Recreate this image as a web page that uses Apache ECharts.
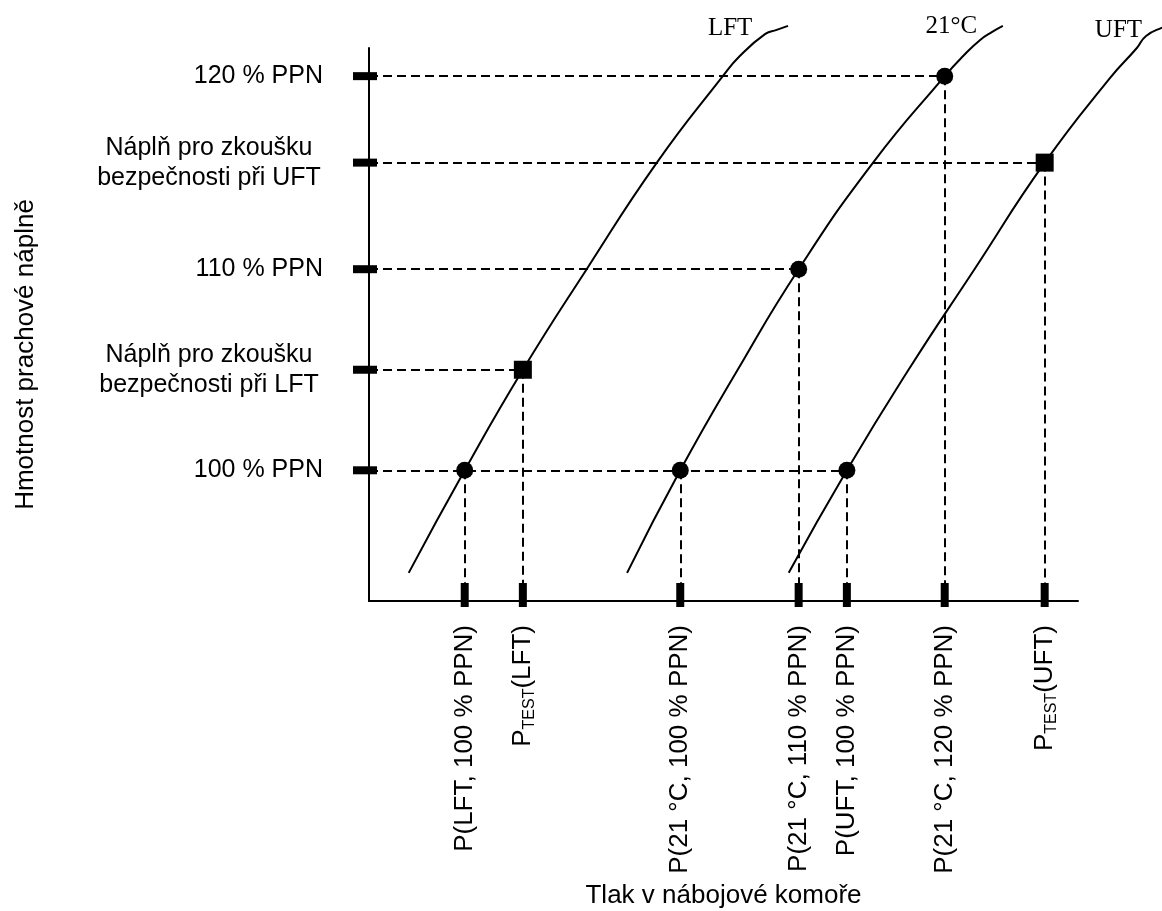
<!DOCTYPE html>
<html>
<head>
<meta charset="utf-8">
<script src="https://cdn.jsdelivr.net/npm/echarts@6/dist/echarts.min.js"></script>
<style>
  html, body { margin: 0; padding: 0; background: #fff; }
  #chart { width: 1162px; height: 911px; }
</style>
</head>
<body>
<div id="chart"></div>
<script>
// y axis: charge mass (% PPN), ticks as placed in the picture
const massLabels = ['120 % PPN', 'Náplň pro zkoušku\nbezpečnosti při UFT', '110 % PPN', 'Náplň pro zkoušku\nbezpečnosti při LFT', '100 % PPN']
const massTicks = [119.6, 115.3, 110, 105, 100]

// x axis: chamber pressure (relative units)
const pressureLabels = ['P(LFT, 100 % PPN)', 'P_TEST(LFT)', 'P(21 °C, 100 % PPN)', 'P(21 °C, 110 % PPN)', 'P(UFT, 100 % PPN)', 'P(21 °C, 120 % PPN)', 'P_TEST(UFT)']
const pressureTicks = [13.5, 21.7, 43.9, 60.6, 67.4, 81.2, 95.3]

// marked operating points
const pointP = [13.5, 21.7, 43.9, 60.6, 67.4, 81.2, 95.3]
const pointM = [100, 105, 100, 110, 100, 119.6, 115.3]
const pointMarker = ['circle', 'rect', 'circle', 'circle', 'circle', 'circle', 'rect']

// curves
const lftP = [5.6, 13.5, 21.7, 30.7, 40.6, 49.9, 52.3, 55.9, 57.5, 59.1]
const lftM = [94.9, 100, 105, 110, 115.3, 119.6, 120.6, 121.7, 121.9, 122.1]
const t21P = [36.4, 43.9, 52.0, 60.6, 71.1, 81.2, 83.8, 86.2, 87.9, 89.4]
const t21M = [94.9, 100, 105, 110, 115.3, 119.6, 120.6, 121.4, 121.8, 122.1]
const uftP = [59.2, 67.4, 76.1, 85.4, 95.3, 104.5, 108.3, 109.6, 111.8, 113.7]
const uftM = [94.9, 100, 105, 110, 115.3, 119.5, 121.0, 121.6, 122.0, 122.2]

const X_MIN = 0, X_MAX = 100, Y_MIN = 93.5, Y_MAX = 121
const GRID = { left: 369, right: 84, top: 48, bottom: 310 }
const SANS = "'Liberation Sans', Arial, sans-serif"
const SERIF = "'Liberation Serif', 'Times New Roman', serif"

const chart = echarts.init(document.getElementById('chart'))
const chartW = 1162
// the curves run past the right end of the x axis, so they sit on a hidden grid
// with the same scale that reaches the page edge
const wideMax = X_MAX * (chartW - GRID.left) / (chartW - GRID.left - GRID.right)

function nearest(arr, v) {
  let best = 0
  arr.forEach((a, i) => { if (Math.abs(a - v) < Math.abs(arr[best] - v)) best = i })
  return best
}

function curve(name, ps, ms, labelIdx, labelDist) {
  const data = ps.map((p, i) => {
    if (i !== labelIdx) return [p, ms[i]]
    return {
      value: [p, ms[i]],
      label: {
        show: true, position: 'left', distance: labelDist, offset: [0, -5],
        formatter: name, fontFamily: SERIF, fontSize: 25, color: '#000'
      }
    }
  })
  return {
    name, type: 'line', data, smooth: 0.5, clip: false,
    xAxisIndex: 1, yAxisIndex: 1,
    showSymbol: true, symbol: 'circle', symbolSize: 0, silent: true, z: 3,
    lineStyle: { color: '#000', width: 2 }
  }
}

const guides = []
pointP.forEach((p, i) => {
  guides.push({ coords: [[X_MIN, pointM[i]], [p, pointM[i]]] })
  guides.push({ coords: [[p, pointM[i]], [p, Y_MIN]] })
})

const option = {
  backgroundColor: '#fff',
  animation: false,
  grid: [
    Object.assign({ outerBoundsMode: 'none' }, GRID),
    { left: GRID.left, right: 0, top: GRID.top, bottom: GRID.bottom, outerBoundsMode: 'none' }
  ],
  xAxis: [{
    type: 'value', min: X_MIN, max: X_MAX,
    name: 'Tlak v nábojové komoře', nameLocation: 'middle', nameGap: 282,
    nameTextStyle: { fontFamily: SANS, fontSize: 26, color: '#000' },
    axisLine: { lineStyle: { color: '#000', width: 2 } },
    axisTick: { show: false },
    splitLine: { show: false },
    axisLabel: {
      customValues: pressureTicks, rotate: 90, margin: 24,
      fontFamily: SANS, fontSize: 26, color: '#000',
      formatter: v => {
        const t = pressureLabels[nearest(pressureTicks, v)]
        if (t.indexOf('P_TEST') === 0) return '{m|P}{s|TEST}{m|' + t.slice(6) + '}'
        return t
      },
      rich: {
        m: { fontFamily: SANS, fontSize: 26, color: '#000', lineHeight: 30 },
        s: { fontFamily: SANS, fontSize: 16, color: '#000', lineHeight: 30, verticalAlign: 'bottom' }
      }
    }
  }, {
    type: 'value', gridIndex: 1, min: X_MIN, max: wideMax, show: false
  }],
  yAxis: [{
    type: 'value', min: Y_MIN, max: Y_MAX,
    name: 'Hmotnost prachové náplně', nameLocation: 'middle', nameGap: 330,
    nameTextStyle: { fontFamily: SANS, fontSize: 26, color: '#000', padding: [0, 60, 0, 0] },
    axisLine: { lineStyle: { color: '#000', width: 2 } },
    axisTick: { show: false },
    splitLine: { show: false },
    axisLabel: {
      customValues: massTicks, margin: 46,
      fontFamily: SANS, fontSize: 25, color: '#000', lineHeight: 30,
      formatter: v => {
        const t = massLabels[nearest(massTicks, v)]
        if (t.indexOf('\n') < 0) return t
        return t.split('\n').map(s => '{c|' + s + '}').join('\n')
      },
      rich: {
        c: { fontFamily: SANS, fontSize: 25, color: '#000', lineHeight: 30, width: 228, align: 'center' }
      }
    }
  }, {
    type: 'value', gridIndex: 1, min: Y_MIN, max: Y_MAX, show: false
  }],
  series: [
    {
      type: 'lines', coordinateSystem: 'cartesian2d', silent: true, z: 2,
      lineStyle: { color: '#000', width: 2, type: [9, 5], opacity: 1 },
      data: guides
    },
    curve('LFT', lftP, lftM, 7, 13),
    curve('21°C', t21P, t21M, 8, 15),
    curve('UFT', uftP, uftM, 7, 4),
    {
      type: 'scatter', silent: true, z: 5, clip: false,
      itemStyle: { color: '#000', opacity: 1 },
      data: pointP.map((p, i) => ({
        value: [p, pointM[i]],
        symbol: pointMarker[i],
        symbolSize: pointMarker[i] === 'rect' ? 18 : 17
      }))
    },
    {
      type: 'scatter', silent: true, z: 6, clip: false,
      symbol: 'rect', symbolSize: [24, 8], symbolOffset: [-4, 0],
      itemStyle: { color: '#000', opacity: 1 },
      data: massTicks.map(v => [X_MIN, v])
    },
    {
      type: 'scatter', silent: true, z: 6, clip: false,
      symbol: 'rect', symbolSize: [8, 24], symbolOffset: [0, -6],
      itemStyle: { color: '#000', opacity: 1 },
      data: pressureTicks.map(v => [v, Y_MIN])
    }
  ]
}

chart.setOption(option)
</script>
</body>
</html>
